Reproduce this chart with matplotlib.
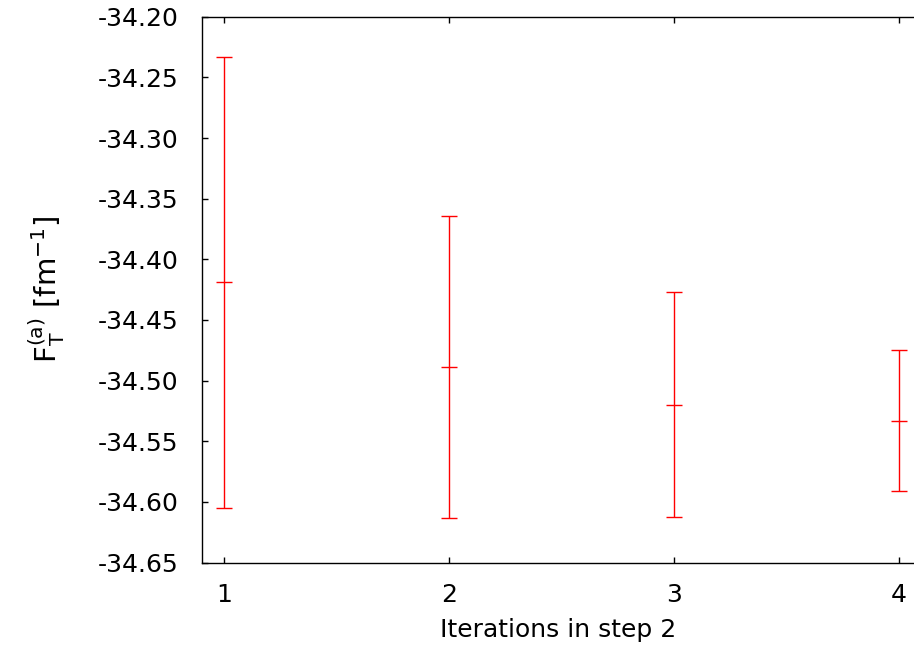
import numpy as np
import matplotlib.pyplot as plt
from matplotlib.ticker import FormatStrFormatter

plt.rcParams['font.family'] = ['DejaVu Sans']
plt.rcParams['axes.unicode_minus'] = False
plt.rcParams['mathtext.fontset'] = 'dejavusans'

# data
iterations = [1, 2, 3, 4]
values = [-34.419, -34.489, -34.520, -34.533]
errors = [0.186, 0.1245, 0.0927, 0.058]

fig = plt.figure(figsize=(9.14, 6.61), dpi=100)
ax = fig.add_axes([0.221, 0.149, 0.779, 0.8255])

ax.errorbar(iterations, values, yerr=errors, fmt='_', color='red',
            ecolor='red', elinewidth=1.0, capsize=5.8, capthick=1.0,
            markersize=11.5, markeredgewidth=1.0)

# right border lies just outside the picture
ax.set_xlim(0.9, 4.067)
ax.set_ylim(-34.65, -34.20)
ax.set_xticks(iterations)
ax.set_yticks(np.arange(-34.65, -34.19, 0.05))
ax.yaxis.set_major_formatter(FormatStrFormatter('%.2f'))

ax.tick_params(direction='in', length=4.5, width=1, labelsize=18,
               top=True, right=False)
ax.tick_params(axis='y', pad=17)
ax.tick_params(axis='x', pad=15)
ax.spines['right'].set_visible(False)
for s in ax.spines.values():
    s.set_linewidth(1.0)

ax.set_xlabel('Iterations in step 2', fontsize=18, labelpad=8)
ax.set_ylabel(r'$\mathregular{F_T^{(a)}}$ [fm$^{\mathregular{-1}}$]', fontsize=21, labelpad=22)

fig.savefig('out.png', dpi=100)
